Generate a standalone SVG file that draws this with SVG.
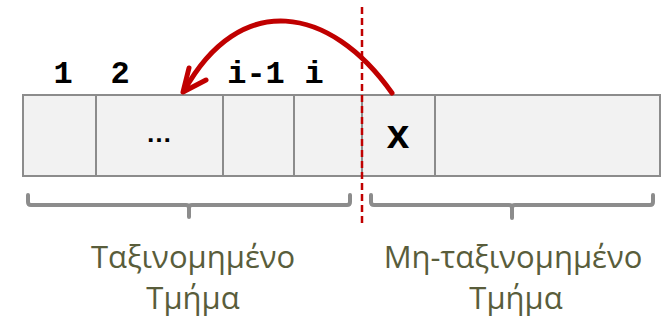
<svg xmlns="http://www.w3.org/2000/svg" width="663" height="328" viewBox="0 0 663 328">
<defs>
<style>
.cell{fill:#F2F2F2;stroke:#8C8C8C;stroke-width:2}
.idx{font-family:"Liberation Mono",monospace;font-weight:bold;font-size:32px;fill:#000;text-anchor:middle}
.brace{fill:none;stroke:#8C8C8C;stroke-width:4;stroke-linecap:round;stroke-linejoin:round}
.lbl{font-family:"Open Sans","Noto Sans",sans-serif;font-size:31px;fill:#595D3B;text-anchor:middle}
.red{fill:none;stroke:#C00000;stroke-width:5;stroke-linecap:round;stroke-linejoin:round}
</style>
</defs>
<g id="array">
<rect class="cell" x="23" y="95" width="73" height="81"/>
<rect class="cell" x="96" y="95" width="127" height="81"/>
<rect class="cell" x="223" y="95" width="71" height="81"/>
<rect class="cell" x="294" y="95" width="68" height="81"/>
<rect class="cell" x="362" y="95" width="73" height="81"/>
<rect class="cell" x="435" y="95" width="225" height="81"/>
<text x="159" y="142" font-family="Liberation Sans, sans-serif" font-weight="bold" font-size="26" text-anchor="middle" fill="#000">…</text>
<text x="398" y="148" font-family="Liberation Mono, monospace" font-weight="bold" font-size="40" text-anchor="middle" fill="#000">x</text>
</g>
<g id="indices">
<text class="idx" x="63" y="83">1</text>
<text class="idx" x="120" y="83">2</text>
<text class="idx" x="256" y="83">i-1</text>
<text class="idx" x="314" y="83">i</text>
</g>
<g id="braces">
<path class="brace" d="M28,195 V202 Q28,205 31,205 H186 Q189,205 189,208 V217 M189,208 Q189,205 192,205 H347 Q350,205 350,202 V195"/>
<path class="brace" d="M371,195 V202 Q371,205 374,205 H509 Q512,205 512,208 V218 M512,208 Q512,205 515,205 H650 Q653,205 653,202 V195"/>
</g>
<g id="labels">
<text class="lbl" x="193" y="268">Ταξινομημένο</text>
<text class="lbl" x="193" y="309">Τμήμα</text>
<text class="lbl" x="513" y="268">Μη-ταξινομημένο</text>
<text class="lbl" x="516" y="309">Τμήμα</text>
</g>
<g id="connectors">
<line x1="362" y1="7" x2="362" y2="226" stroke="#C00000" stroke-width="2.5" stroke-dasharray="7,4"/>
<path class="red" d="M392,93 C330,5 240,-10 184,91"/>
<polyline class="red" points="189,68 183,92 206,80"/>
</g>
</svg>
